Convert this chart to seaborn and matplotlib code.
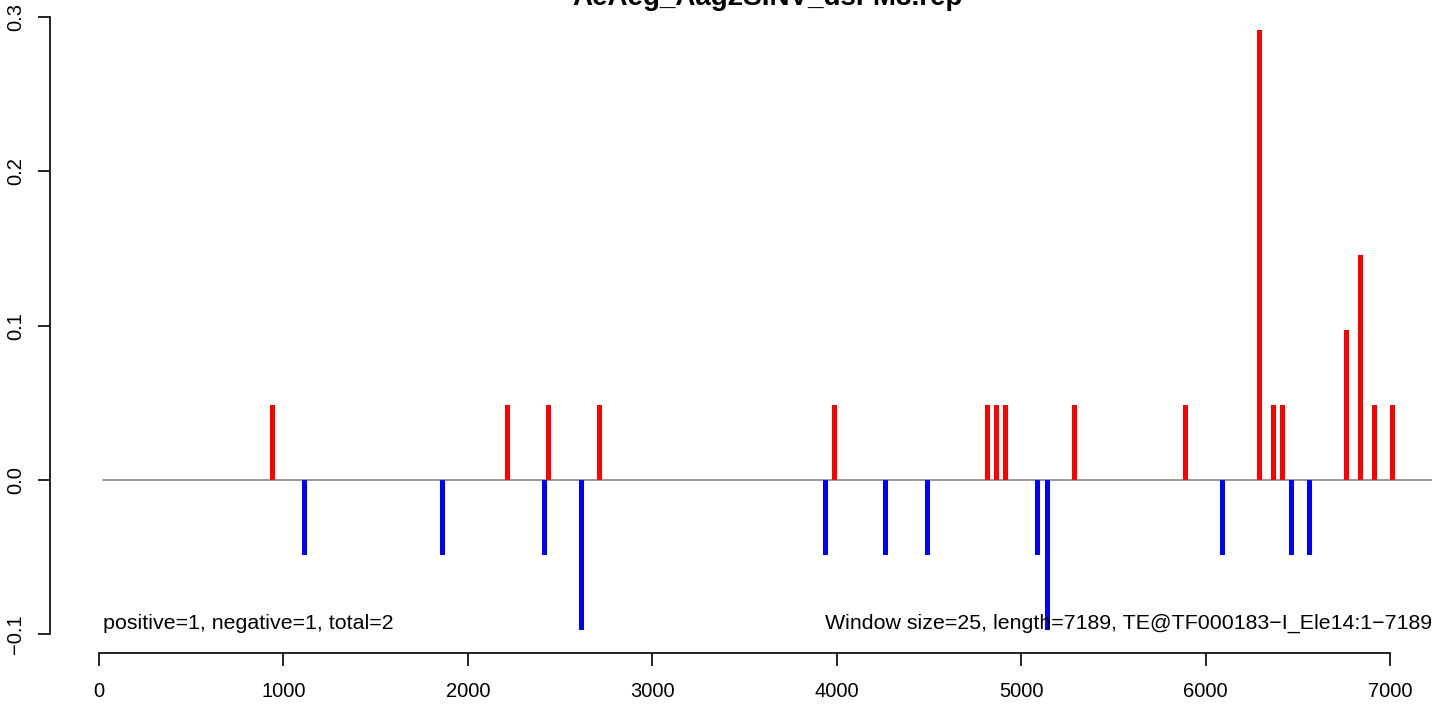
import matplotlib
matplotlib.use("Agg")
import matplotlib.pyplot as plt
import numpy as np
import pandas as pd
import seaborn as sns

# window positions (bp) and normalised signal
pos_x = [940, 2215, 2437, 2714, 3988, 4818, 4866, 4915, 5289, 5891,
         6293, 6369, 6417, 6764, 6840, 6916, 7013]
pos_y = [0.0486, 0.0486, 0.0486, 0.0486, 0.0486, 0.0486, 0.0486, 0.0486, 0.0486, 0.0486,
         0.2916, 0.0486, 0.0486, 0.0972, 0.1458, 0.0486, 0.0486]
neg_x = [1114, 1862, 2416, 2616, 3939, 4264, 4492, 5089, 5143, 6092, 6466, 6564]
neg_y = [-0.0486, -0.0486, -0.0486, -0.0972, -0.0486, -0.0486, -0.0486, -0.0486,
         -0.0972, -0.0486, -0.0486, -0.0486]

title = "AeAeg_Aag2SINV_dsFM3.rep"
left_note = "positive=1, negative=1, total=2"
right_note = "Window size=25, length=7189, TE@TF000183\u2212I_Ele14:1\u22127189"
x_ticks = [0, 1000, 2000, 3000, 4000, 5000, 6000, 7000]
y_ticks = [-0.1, 0.0, 0.1, 0.2, 0.3]

# layout (data units)
BAR_W = 27
REGION = (22, 7228)
XLIM = (-266, 7228)
YLIM = (-0.1121, 0.3111)

sns.set_theme(style="ticks")
plt.rcParams["font.family"] = ["Liberation Sans", "DejaVu Sans"]
plt.rcParams["text.color"] = "black"

fig = plt.figure(figsize=(14.44, 7.04), dpi=100)
ax = fig.add_axes([50 / 1444, 51 / 704, 1382 / 1444, 653 / 704])


def draw_bars(xs, ys, color):
    df = pd.DataFrame({"x": xs, "y": ys})
    step = np.diff(np.sort(np.unique(xs))).min()
    sns.barplot(data=df, x="x", y="y", native_scale=True, width=BAR_W / step,
                color=color, saturation=1, errorbar=None, linewidth=0, ax=ax)


ax.axhline(0, xmin=(REGION[0] - XLIM[0]) / (XLIM[1] - XLIM[0]),
           xmax=(REGION[1] - XLIM[0]) / (XLIM[1] - XLIM[0]),
           color="#9a9a9a", lw=1.4, zorder=1)
draw_bars(pos_x, pos_y, "#ff0000")
draw_bars(neg_x, neg_y, "#0000ff")

ax.set_xlim(*XLIM)
ax.set_ylim(*YLIM)
ax.set_xlabel("")
ax.set_ylabel("")
ax.set_xticks(x_ticks)
ax.set_xticklabels([str(t) for t in x_ticks])
ax.set_yticks(y_ticks)
ax.set_yticklabels(["\u22120.1", "0.0", "0.1", "0.2", "0.3"], rotation=90, va="center")
ax.tick_params(axis="both", length=9, width=1.2, color="black", labelsize=14.5,
               labelcolor="black")
ax.tick_params(axis="x", pad=12)
ax.tick_params(axis="y", pad=9)

for side in ["top", "right"]:
    ax.spines[side].set_visible(False)
ax.spines["left"].set_bounds(y_ticks[0], y_ticks[-1])
ax.spines["bottom"].set_bounds(x_ticks[0], x_ticks[-1])
for side in ["left", "bottom"]:
    ax.spines[side].set_color("black")
    ax.spines[side].set_linewidth(1.2)

ax.text(REGION[0], -0.0927, left_note, ha="left", va="center", fontsize=15.4, color="black")
ax.text(REGION[1], -0.0927, right_note, ha="right", va="center", fontsize=15.4, color="black")
ax.text(sum(REGION) / 2, 0.3078, title, ha="center", va="baseline",
        fontsize=20, fontweight="bold", color="black")

fig.savefig("out.png", dpi=100)
plt.close(fig)
